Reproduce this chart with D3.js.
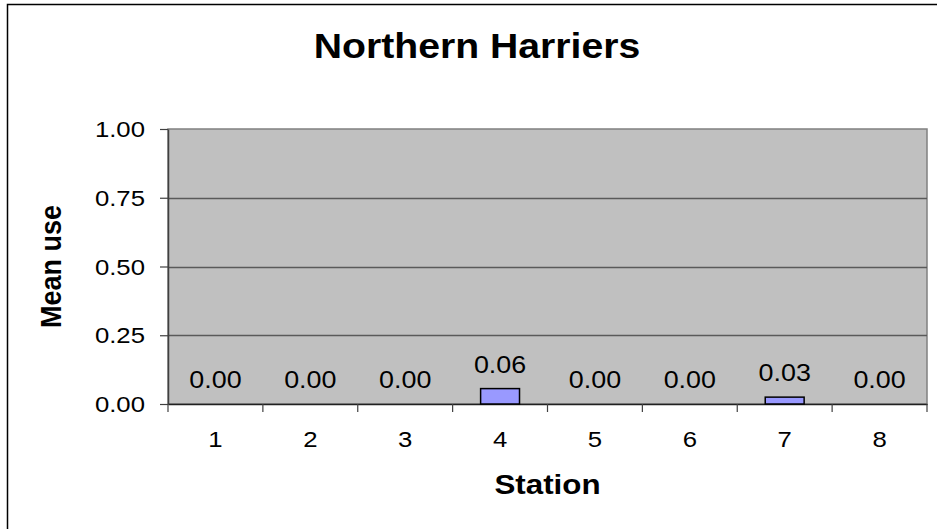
<!DOCTYPE html>
<html>
<head>
<meta charset="utf-8">
<script src="https://cdn.jsdelivr.net/npm/d3@7"></script>
<style>
html,body{margin:0;padding:0;background:#fff;}
svg{display:block;}
text{font-family:"Liberation Sans",Arial,sans-serif;fill:#000;}
</style>
</head>
<body>
<svg id="chart" width="937" height="529"></svg>
<script>
const title = "Northern Harriers";
const categories = ["1","2","3","4","5","6","7","8"];
const values = [0, 0, 0, 0.056, 0, 0, 0.025, 0];
const valueLabels = ["0.00","0.00","0.00","0.06","0.00","0.00","0.03","0.00"];
const yTicks = [0, 0.25, 0.5, 0.75, 1.0];
const xTitle = "Station";
const yTitle = "Mean use";

const W = 937, H = 529;
const m = {left:168, right:927, top:129, bottom:404};
const sx = 1.12; // horizontal text stretch of reference

const svg = d3.select("#chart");

// outer chart border
svg.append("rect").attr("x",7.5).attr("y",4.5).attr("width",W+10).attr("height",H+10)
  .attr("fill","#fff").attr("stroke","#000").attr("stroke-width",1.5);

const x = d3.scaleBand().domain(categories).range([m.left, m.right]).paddingInner(0).paddingOuter(0);
const y = d3.scaleLinear().domain([0,1]).range([m.bottom, m.top]);

// plot area
svg.append("rect").attr("x",m.left).attr("y",m.top)
  .attr("width",m.right-m.left).attr("height",m.bottom-m.top)
  .attr("fill","#C0C0C0").attr("stroke","#808080").attr("stroke-width",1.5);

// gridlines
svg.append("g").selectAll("line").data(yTicks.filter(d=>d>0 && d<1)).join("line")
  .attr("x1",m.left).attr("x2",m.right)
  .attr("y1",d=>Math.round(y(d))+0.5).attr("y2",d=>Math.round(y(d))+0.5)
  .attr("stroke","#5a5a5a").attr("stroke-width",1.5);

function stretched(sel){
  return sel.attr("transform", function(){
    const t = d3.select(this);
    return `translate(${t.attr("data-x")},${t.attr("data-y")}) scale(${sx},1)`;
  });
}

// y axis
const yAxis = d3.axisLeft(y).tickValues(yTicks).tickFormat(d3.format(".2f")).tickSize(8).tickSizeOuter(0);
const gy = svg.append("g").attr("transform",`translate(${m.left},0)`).call(yAxis);
gy.select(".domain").attr("stroke","#404040").attr("stroke-width",1.5);
gy.selectAll(".tick line").attr("stroke","#404040").attr("stroke-width",1.2);
gy.selectAll(".tick text").remove();
svg.append("g").selectAll("text").data(yTicks).join("text")
  .attr("data-x",145).attr("data-y",d=>y(d)+8)
  .attr("text-anchor","end").attr("font-size",23).text(d=>d3.format(".2f")(d))
  .call(stretched);

// x axis
const xAxis = d3.axisBottom(x).tickSize(0).tickSizeOuter(0);
const gx = svg.append("g").attr("transform",`translate(0,${m.bottom})`).call(xAxis);
gx.select(".domain").attr("stroke","#202020").attr("stroke-width",1.5);
gx.selectAll(".tick text").remove();
// boundary ticks
const bounds = categories.map(c=>x(c)).concat([m.right]);
svg.append("g").selectAll("line").data(bounds).join("line")
  .attr("x1",d=>d).attr("x2",d=>d).attr("y1",m.bottom).attr("y2",m.bottom+8)
  .attr("stroke","#404040").attr("stroke-width",1.2);
svg.append("g").selectAll("text").data(categories).join("text")
  .attr("data-x",d=>x(d)+x.bandwidth()/2).attr("data-y",447)
  .attr("text-anchor","middle").attr("font-size",23).text(d=>d)
  .call(stretched);

// bars
const barW = x.bandwidth()*0.41;
svg.append("g").selectAll("rect").data(values).join("rect")
  .attr("x",(d,i)=>x(categories[i])+x.bandwidth()/2-barW/2)
  .attr("y",d=>y(d))
  .attr("width",barW)
  .attr("height",d=>Math.max(0,m.bottom-y(d)))
  .attr("fill","#9999FF").attr("stroke","#000").attr("stroke-width",1.5)
  .attr("visibility",d=>d>0?"visible":"hidden");

// data labels
svg.append("g").selectAll("text").data(values).join("text")
  .attr("data-x",(d,i)=>x(categories[i])+x.bandwidth()/2)
  .attr("data-y",d=>y(d)-16)
  .attr("text-anchor","middle").attr("font-size",24).text((d,i)=>valueLabels[i])
  .call(stretched);

// title
svg.append("text").attr("data-x",477).attr("data-y",58)
  .attr("text-anchor","middle").attr("font-size",35).attr("font-weight","bold").text(title)
  .call(stretched);

// x title
svg.append("text").attr("data-x",(m.left+m.right)/2).attr("data-y",494)
  .attr("text-anchor","middle").attr("font-size",28).attr("font-weight","bold").text(xTitle)
  .call(stretched);

// y title
svg.append("text")
  .attr("transform",`translate(61,${(m.top+m.bottom)/2}) scale(${sx},1) rotate(-90)`)
  .attr("text-anchor","middle").attr("font-size",27).attr("font-weight","bold").text(yTitle);
</script>
</body>
</html>
